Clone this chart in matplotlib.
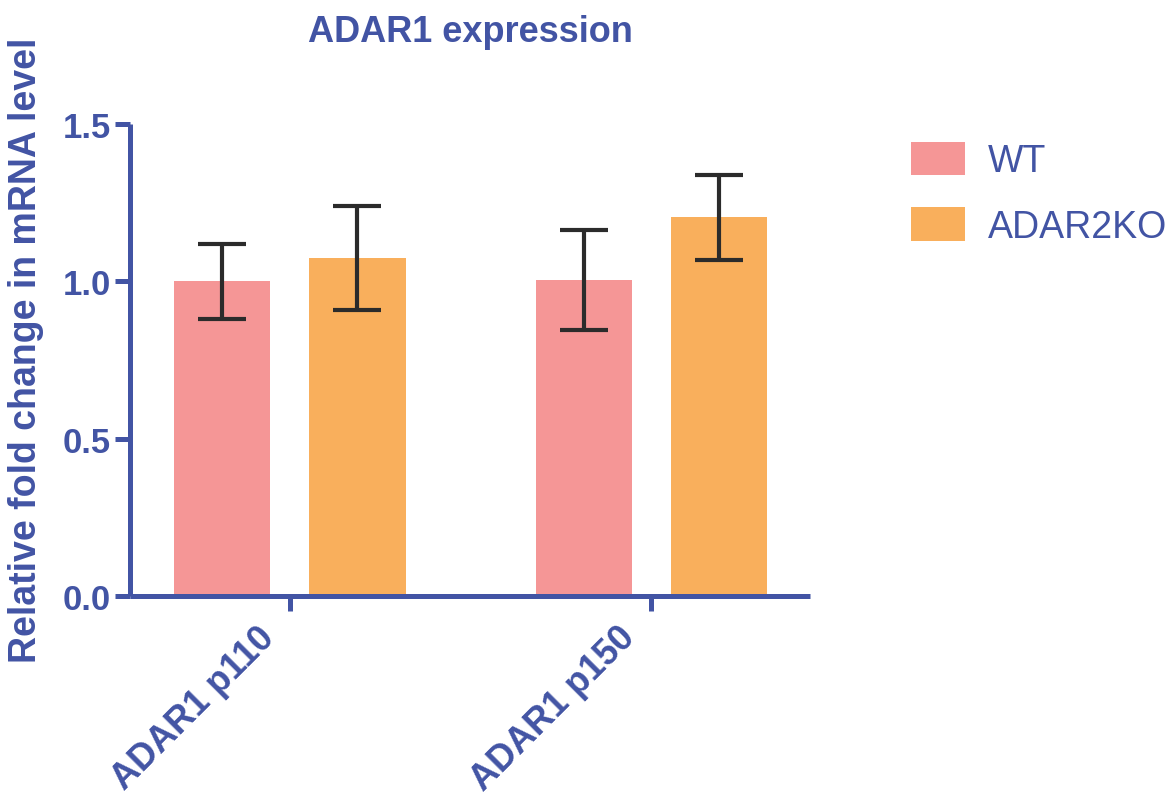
import numpy as np
import matplotlib
matplotlib.use("Agg")
from matplotlib import pyplot as plt
from matplotlib.transforms import ScaledTranslation

# data
categories = ["ADAR1 p110", "ADAR1 p150"]
groups = ["WT", "ADAR2KO"]
wt_mean = [1.00, 1.005]
wt_err = [0.12, 0.158]
ko_mean = [1.075, 1.204]
ko_err = [0.166, 0.135]
yticks = [0.0, 0.5, 1.0, 1.5]

BLUE = "#4254A4"
PINK = "#F59696"
ORANGE = "#F9AF5C"
ERR = "#2B2B2B"

plt.rcParams["font.family"] = ["Liberation Sans", "DejaVu Sans"]

fig = plt.figure(figsize=(11.71, 8.03), dpi=100)
ax = fig.add_axes([0.111, 0.2565, 0.5807, 0.5878])

x = np.arange(len(categories))
width = 0.266
offset = 0.187

means = [wt_mean, ko_mean]
errs = [wt_err, ko_err]
colors = [PINK, ORANGE]
for i, (m, e, c, g) in enumerate(zip(means, errs, colors, groups)):
    pos = x + (i * 2 - 1) * offset
    ax.bar(pos, m, width=width, color=c, label=g, zorder=2)
    ax.errorbar(pos, m, yerr=e, fmt="none", ecolor=ERR, elinewidth=3,
                capsize=17.5, capthick=3, zorder=3)

ax.set_xlim(-0.443, 1.44)
ax.set_ylim(0, 1.5)
ax.set_yticks(yticks)
ax.set_yticklabels([f"{v:.1f}" for v in yticks])
ax.set_xticks(x)
ax.set_xticklabels(categories, rotation=45, ha="right", va="top",
                   rotation_mode="anchor")

for side in ["top", "right"]:
    ax.spines[side].set_visible(False)
for side in ["left", "bottom"]:
    ax.spines[side].set_color(BLUE)
    ax.spines[side].set_linewidth(3.6)
    ax.spines[side].set_capstyle("butt")

ax.tick_params(axis="both", colors=BLUE, width=3.6, length=11,
               labelsize=25, pad=3)
# nudge the rotated labels left (and a bit down) like the original
shift = ScaledTranslation(-24 / 72, -3 / 72, fig.dpi_scale_trans)
for lab in ax.get_xticklabels():
    lab.set_fontsize(26)
    lab.set_transform(lab.get_transform() + shift)
for lab in ax.get_xticklabels() + ax.get_yticklabels():
    lab.set_fontweight("bold")
    lab.set_color(BLUE)

ax.set_ylabel("Relative fold change in mRNA level", fontsize=27,
              fontweight="bold", color=BLUE)
ax.yaxis.set_label_coords(-0.127, 0.523)
ax.set_title("ADAR1 expression", fontsize=26, fontweight="bold",
             color=BLUE, pad=60)

leg = fig.legend(loc="upper left", bbox_to_anchor=(0.765, 0.841),
                 frameon=False, fontsize=27, handlelength=1.45,
                 handleheight=1.0, handletextpad=0.6, labelspacing=0.75,
                 borderaxespad=0)
for t in leg.get_texts():
    t.set_color(BLUE)

fig.savefig("out.png", dpi=100)
